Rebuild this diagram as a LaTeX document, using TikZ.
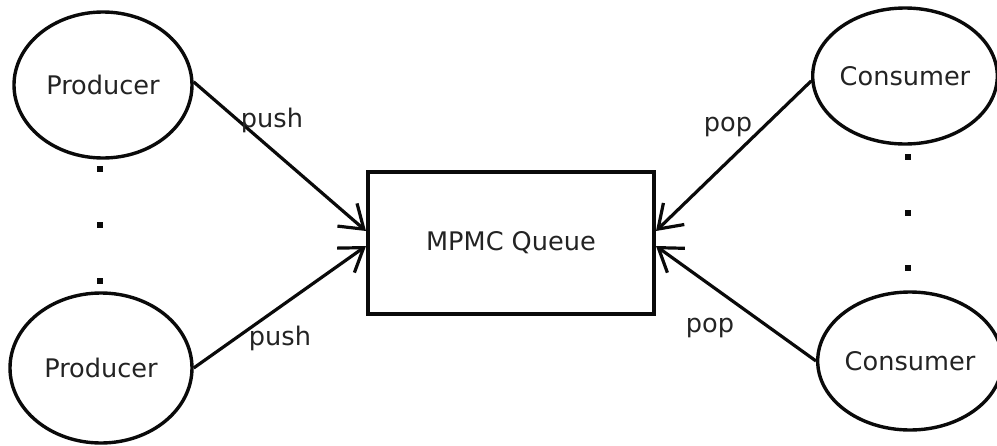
\documentclass[tikz,border=0pt]{standalone}
\usepackage{fontspec}
\setmainfont{DejaVu Sans}
\usetikzlibrary{shapes.geometric,arrows.meta}
\definecolor{ink}{RGB}{10,10,10}
\definecolor{txt}{RGB}{35,35,35}
\begin{document}
\begin{tikzpicture}[x=0.5pt,y=-0.5pt,
  every node/.style={font=\fontsize{12.8pt}{15pt}\selectfont,text=txt},
  actor/.style={ellipse,draw=ink,line width=1.7pt,inner sep=0pt},
  queuebox/.style={rectangle,draw=ink,line width=2pt,minimum width=143pt,minimum height=71pt,inner sep=0pt},
  flow/.style={draw=ink,line width=1.6pt,-{Straight Barb[length=11pt,width=15pt,line width=1.6pt]}},
  dotmark/.style={rectangle,fill=ink,minimum size=2.6pt,inner sep=0pt}]
  \useasboundingbox (0,0) rectangle (997,445);

  % producers and consumers
  \node[actor,minimum width=89pt,minimum height=73pt] (p1) at (103,85) {Producer};
  \node[actor,minimum width=91pt,minimum height=75pt] (p2) at (101,368) {Producer};
  \node[actor,minimum width=91pt,minimum height=68pt] (c1) at (905,76) {Consumer};
  \node[actor,minimum width=89pt,minimum height=69pt] (c2) at (910,361) {Consumer};

  % shared queue
  \node[queuebox] (q) at (511,243) {MPMC Queue};

  % ellipsis dots
  \node[dotmark] (ld1) at (100,169) {};
  \node[dotmark] (ld2) at (100,225) {};
  \node[dotmark] (ld3) at (100,281) {};
  \node[dotmark] (rd1) at (908,157) {};
  \node[dotmark] (rd2) at (908,213) {};
  \node[dotmark] (rd3) at (908,268) {};

  % push / pop connectors
  \draw[flow] (p1.2) -- ([yshift=6pt]q.west);
  \draw[flow] (p2.east) -- ([yshift=-1.5pt]q.west);
  \draw[flow] (c1.183) -- ([yshift=6pt]q.east);
  \draw[flow] (c2.180) -- ([yshift=-1.5pt]q.east);

  % labels
  \node (l1) at (272,120) {push};
  \node (l2) at (280,338) {push};
  \node (l3) at (728,127) {pop};
  \node (l4) at (710,328) {pop};
\end{tikzpicture}
\end{document}
